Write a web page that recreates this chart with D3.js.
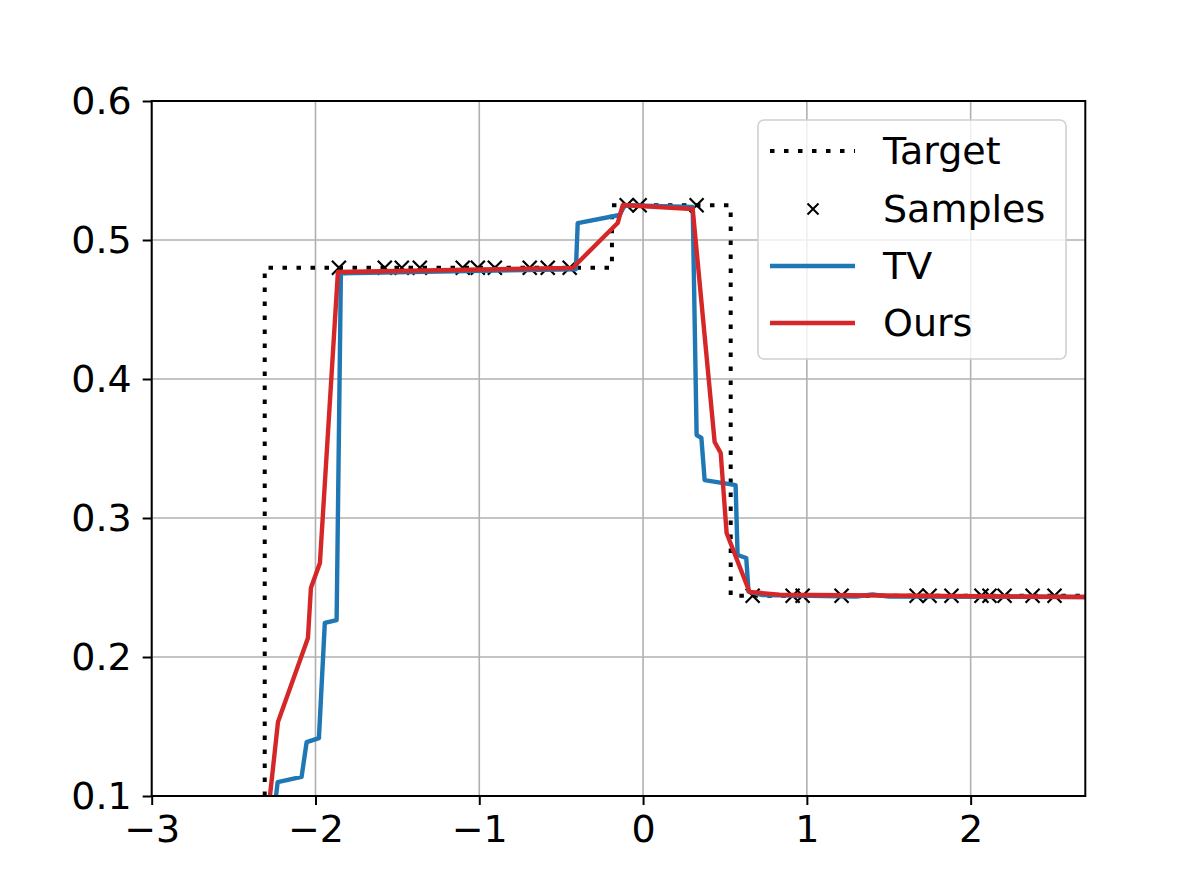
<!DOCTYPE html>
<html>
<head>
<meta charset="utf-8">
<script src="https://cdn.jsdelivr.net/npm/d3@7"></script>
<style>
  html, body { margin: 0; padding: 0; background: #fff; }
  svg { display: block; }
  text { font-family: "DejaVu Sans", sans-serif; fill: #000; }
</style>
</head>
<body>
<svg id="chart" width="1196" height="895"></svg>
<script>
// ---- data ----
const xTicks = [-3, -2, -1, 0, 1, 2];
const yTicks = [0.1, 0.2, 0.3, 0.4, 0.5, 0.6];
const xDomain = [-3, 2.7];
const yDomain = [0.1, 0.6];

// Target: piecewise constant (step after)
const targetX = [-3, -2.31, -0.19, 0.535, 2.7];
const targetY = [0.0, 0.48, 0.525, 0.244, 0.244];

// Samples
const sampleX = [-1.857, -1.577, -1.473, -1.363, -1.101, -1.009, -0.905, -0.692, -0.582, -0.448,
                 -0.100, -0.021, 0.327,
                 0.669, 0.913, 0.974, 1.212, 1.670, 1.749, 1.883, 2.066, 2.115, 2.207, 2.378, 2.512];
const sampleY = [0.48, 0.48, 0.48, 0.48, 0.48, 0.48, 0.48, 0.48, 0.48, 0.48,
                 0.525, 0.525, 0.525,
                 0.244, 0.244, 0.244, 0.244, 0.244, 0.244, 0.244, 0.244, 0.244, 0.244, 0.244, 0.244];

// TV reconstruction
const tvX = [-2.26, -2.241, -2.231, -2.085, -2.054, -1.979, -1.943, -1.871, -1.845, -0.41, -0.399,
             -0.143, -0.112, 0.303, 0.327, 0.356, 0.376, 0.565, 0.577, 0.630, 0.644, 0.730,
             1.30, 1.40, 1.50, 2.7];
const tvY = [0.05, 0.100, 0.110, 0.1137, 0.1388, 0.1417, 0.2245, 0.2266, 0.476, 0.479, 0.5122,
             0.518, 0.525, 0.5237, 0.3597, 0.3576, 0.3273, 0.3237, 0.2734, 0.2712, 0.247, 0.2445,
             0.2435, 0.2450, 0.2435, 0.2432];

// Ours reconstruction
const oursX = [-2.302, -2.278, -2.229, -2.046, -2.028, -1.973, -1.863, -0.430, -0.155, -0.124,
               0.303, 0.437, 0.474, 0.510, 0.650, 0.833, 2.7];
const oursY = [0.0755, 0.100, 0.1532, 0.2137, 0.2496, 0.2676, 0.477, 0.4799, 0.5122, 0.5252,
               0.5223, 0.3547, 0.3468, 0.2892, 0.2468, 0.2448, 0.2432];

const legendLabels = ["Target", "Samples", "TV", "Ours"];
const colors = { target: "#000000", samples: "#000000", tv: "#1f77b4", ours: "#d62728" };

// ---- layout ----
const L = 151.7, R = 1085.3, T = 101, B = 796;
const svg = d3.select("#chart");
const x = d3.scaleLinear().domain(xDomain).range([L, R]);
const y = d3.scaleLinear().domain(yDomain).range([B, T]);

svg.append("defs").append("clipPath").attr("id", "plotclip")
  .append("rect").attr("x", L).attr("y", T).attr("width", R - L).attr("height", B - T);

// grid
const grid = svg.append("g");
grid.selectAll(".gx").data(xTicks).join("line")
  .attr("x1", d => x(d)).attr("x2", d => x(d)).attr("y1", T).attr("y2", B)
  .attr("stroke", "#b0b0b0").attr("stroke-width", 1.6);
grid.selectAll(".gy").data(yTicks).join("line")
  .attr("x1", L).attr("x2", R).attr("y1", d => y(d)).attr("y2", d => y(d))
  .attr("stroke", "#b0b0b0").attr("stroke-width", 1.6);

const plot = svg.append("g").attr("clip-path", "url(#plotclip)");

// target
const targetData = targetX.map((v, i) => [v, targetY[i]]);
plot.append("path").datum(targetData)
  .attr("d", d3.line().x(d => x(d[0])).y(d => y(d[1])).curve(d3.curveStepAfter))
  .attr("fill", "none").attr("stroke", colors.target).attr("stroke-width", 4)
  .attr("stroke-dasharray", "4.5 9.5");

// samples
const xMark = (cx, cy, s) => `M${cx - s},${cy - s}L${cx + s},${cy + s}M${cx - s},${cy + s}L${cx + s},${cy - s}`;
plot.append("g").selectAll("path").data(sampleX.map((v, i) => [v, sampleY[i]])).join("path")
  .attr("d", d => xMark(x(d[0]), y(d[1]), 7))
  .attr("stroke", colors.samples).attr("stroke-width", 2.2).attr("fill", "none");

// lines
const line = d3.line().x(d => x(d[0])).y(d => y(d[1]));
plot.append("path").datum(tvX.map((v, i) => [v, tvY[i]]))
  .attr("d", line).attr("fill", "none").attr("stroke", colors.tv)
  .attr("stroke-width", 4.4).attr("stroke-linejoin", "round");
plot.append("path").datum(oursX.map((v, i) => [v, oursY[i]]))
  .attr("d", line).attr("fill", "none").attr("stroke", colors.ours)
  .attr("stroke-width", 4.4).attr("stroke-linejoin", "round");

// axes
const fmtX = d => (d < 0 ? "\u2212" + Math.abs(d) : String(d));
const xAxis = svg.append("g").attr("transform", `translate(0,${B})`)
  .call(d3.axisBottom(x).tickValues(xTicks).tickFormat(fmtX).tickSize(9).tickPadding(10));
const yAxis = svg.append("g").attr("transform", `translate(${L},0)`)
  .call(d3.axisLeft(y).tickValues(yTicks).tickFormat(d3.format(".1f")).tickSize(9).tickPadding(11));
[xAxis, yAxis].forEach(a => {
  a.select(".domain").remove();
  a.selectAll(".tick line").attr("stroke", "#000").attr("stroke-width", 2);
  a.selectAll(".tick text").attr("font-size", 38).attr("font-family", "DejaVu Sans").attr("fill", "#000");
});

// frame
svg.append("rect").attr("x", L).attr("y", T).attr("width", R - L).attr("height", B - T)
  .attr("fill", "none").attr("stroke", "#000").attr("stroke-width", 2);

// legend
const lg = svg.append("g");
lg.append("rect").attr("x", 758).attr("y", 120).attr("width", 308).attr("height", 239)
  .attr("rx", 6).attr("ry", 6).attr("fill", "#fff").attr("fill-opacity", 0.8)
  .attr("stroke", "#d0d0d0").attr("stroke-width", 1.6);
const rowY = [151, 209, 266, 323];
const lx1 = 770, lx2 = 855, tx = 883;
lg.append("line").attr("x1", lx1).attr("x2", lx2).attr("y1", rowY[0]).attr("y2", rowY[0])
  .attr("stroke", colors.target).attr("stroke-width", 4).attr("stroke-dasharray", "4.5 9.5");
lg.append("path").attr("d", xMark((lx1 + lx2) / 2 + 0.5, rowY[1], 5.5))
  .attr("stroke", colors.samples).attr("stroke-width", 2).attr("fill", "none");
lg.append("line").attr("x1", lx1).attr("x2", lx2).attr("y1", rowY[2]).attr("y2", rowY[2])
  .attr("stroke", colors.tv).attr("stroke-width", 4.4);
lg.append("line").attr("x1", lx1).attr("x2", lx2).attr("y1", rowY[3]).attr("y2", rowY[3])
  .attr("stroke", colors.ours).attr("stroke-width", 4.4);
lg.selectAll("text.lab").data(legendLabels).join("text")
  .attr("x", tx).attr("y", (d, i) => rowY[i] + 13)
  .attr("font-size", 38).text(d => d);
</script>
</body>
</html>
